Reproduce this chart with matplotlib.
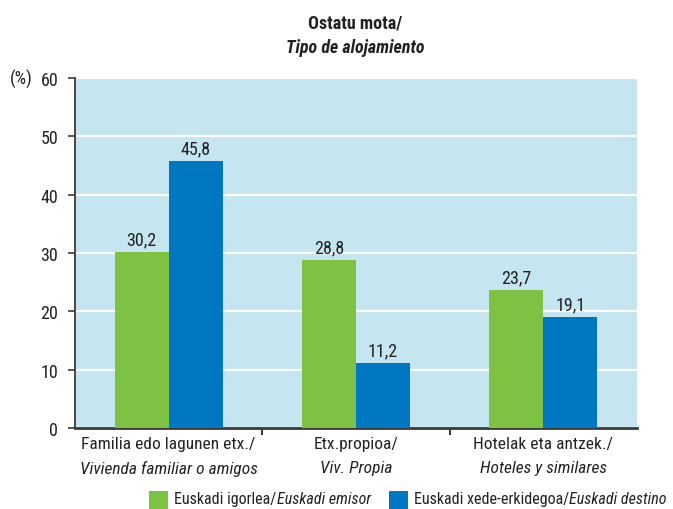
import matplotlib
matplotlib.use("Agg")
import matplotlib.pyplot as plt
from matplotlib.patches import Rectangle
import numpy as np

plt.rcParams['font.family'] = ['Roboto Condensed', 'DejaVu Sans']

# data
cat_eu = ["Familia edo lagunen etx./", "Etx.propioa/", "Hotelak eta antzek./"]
cat_es = ["Vivienda familiar o amigos", "Viv. Propia", "Hoteles y similares"]
emisor = [30.2, 28.8, 23.7]
destino = [45.8, 11.2, 19.1]
yticks = [0, 10, 20, 30, 40, 50, 60]

green = "#7DC243"
blue = "#0077C0"
bg = "#C5E5F0"
axcol = "#3a3a3a"
txt = "#222222"
fs = 13

fig = plt.figure(figsize=(6.73, 5.10), dpi=100)
ax = fig.add_axes([0.1114, 0.1588, 0.835, 0.6862])
ax.set_facecolor(bg)

x = np.arange(len(cat_eu))
w = 0.288
b1 = ax.bar(x - w / 2, emisor, w, color=green, zorder=3)
b2 = ax.bar(x + w / 2, destino, w, color=blue, zorder=3)

for bars, vals in ((b1, emisor), (b2, destino)):
    for r, v in zip(bars, vals):
        ax.text(r.get_x() + r.get_width() / 2, v + 0.6, ("%.1f" % v).replace(".", ","),
                ha="center", va="bottom", fontsize=fs, color=txt, zorder=4)

ax.set_xlim(-0.5, 2.5)
ax.set_ylim(0, 60)
ax.set_yticks(yticks)
ax.set_yticklabels([str(t) for t in yticks], fontsize=fs, color=txt)
ax.yaxis.grid(True, color="white", linewidth=1.6, zorder=1)
ax.set_axisbelow(True)

ax.set_xticks([0.5, 1.5])
ax.set_xticklabels([])
ax.tick_params(axis="x", direction="out", length=5, width=1.5, color=axcol)
ax.tick_params(axis="y", direction="out", length=5, width=1.2, color=axcol, pad=7)

for s in ("top", "right"):
    ax.spines[s].set_visible(False)
ax.spines["left"].set_color(axcol)
ax.spines["left"].set_linewidth(1.3)
ax.spines["bottom"].set_color(axcol)
ax.spines["bottom"].set_linewidth(2)

trans = ax.get_xaxis_transform()
for i in x:
    ax.text(i, -0.022, cat_eu[i], transform=trans, ha="center", va="top",
            fontsize=12.5, color=txt)
    ax.text(i, -0.092, cat_es[i], transform=trans, ha="center", va="top",
            fontsize=12.5, color=txt, style="italic")

fig.text(0.015, 0.845, "(%)", ha="left", va="center", fontsize=fs, color=txt)

fig.text(0.528, 0.953, "Ostatu mota/", ha="center", va="center",
         fontsize=fs, fontweight="bold", color=txt)
fig.text(0.528, 0.905, "Tipo de alojamiento", ha="center", va="center",
         fontsize=fs, fontweight="bold", style="italic", color=txt)

# legend built by hand (mixed upright / italic labels)
fig.canvas.draw()
rend = fig.canvas.get_renderer()
ly = 0.012
lfs = 11.5
entries = [(0.222, green, "Euskadi igorlea/", "Euskadi emisor"),
           (0.578, blue, "Euskadi xede-erkidegoa/", "Euskadi destino")]
for lx, col, t1, t2 in entries:
    fig.patches.append(Rectangle((lx, 0.0), 0.028, 0.035, transform=fig.transFigure,
                                 facecolor=col, edgecolor="none"))
    a = fig.text(lx + 0.037, ly, t1, ha="left", va="baseline", fontsize=lfs, color=txt)
    bb = a.get_window_extent(rend).transformed(fig.transFigure.inverted())
    fig.text(bb.x1, ly, t2, ha="left", va="baseline", fontsize=lfs, color=txt, style="italic")

fig.savefig("out.png", dpi=100)
